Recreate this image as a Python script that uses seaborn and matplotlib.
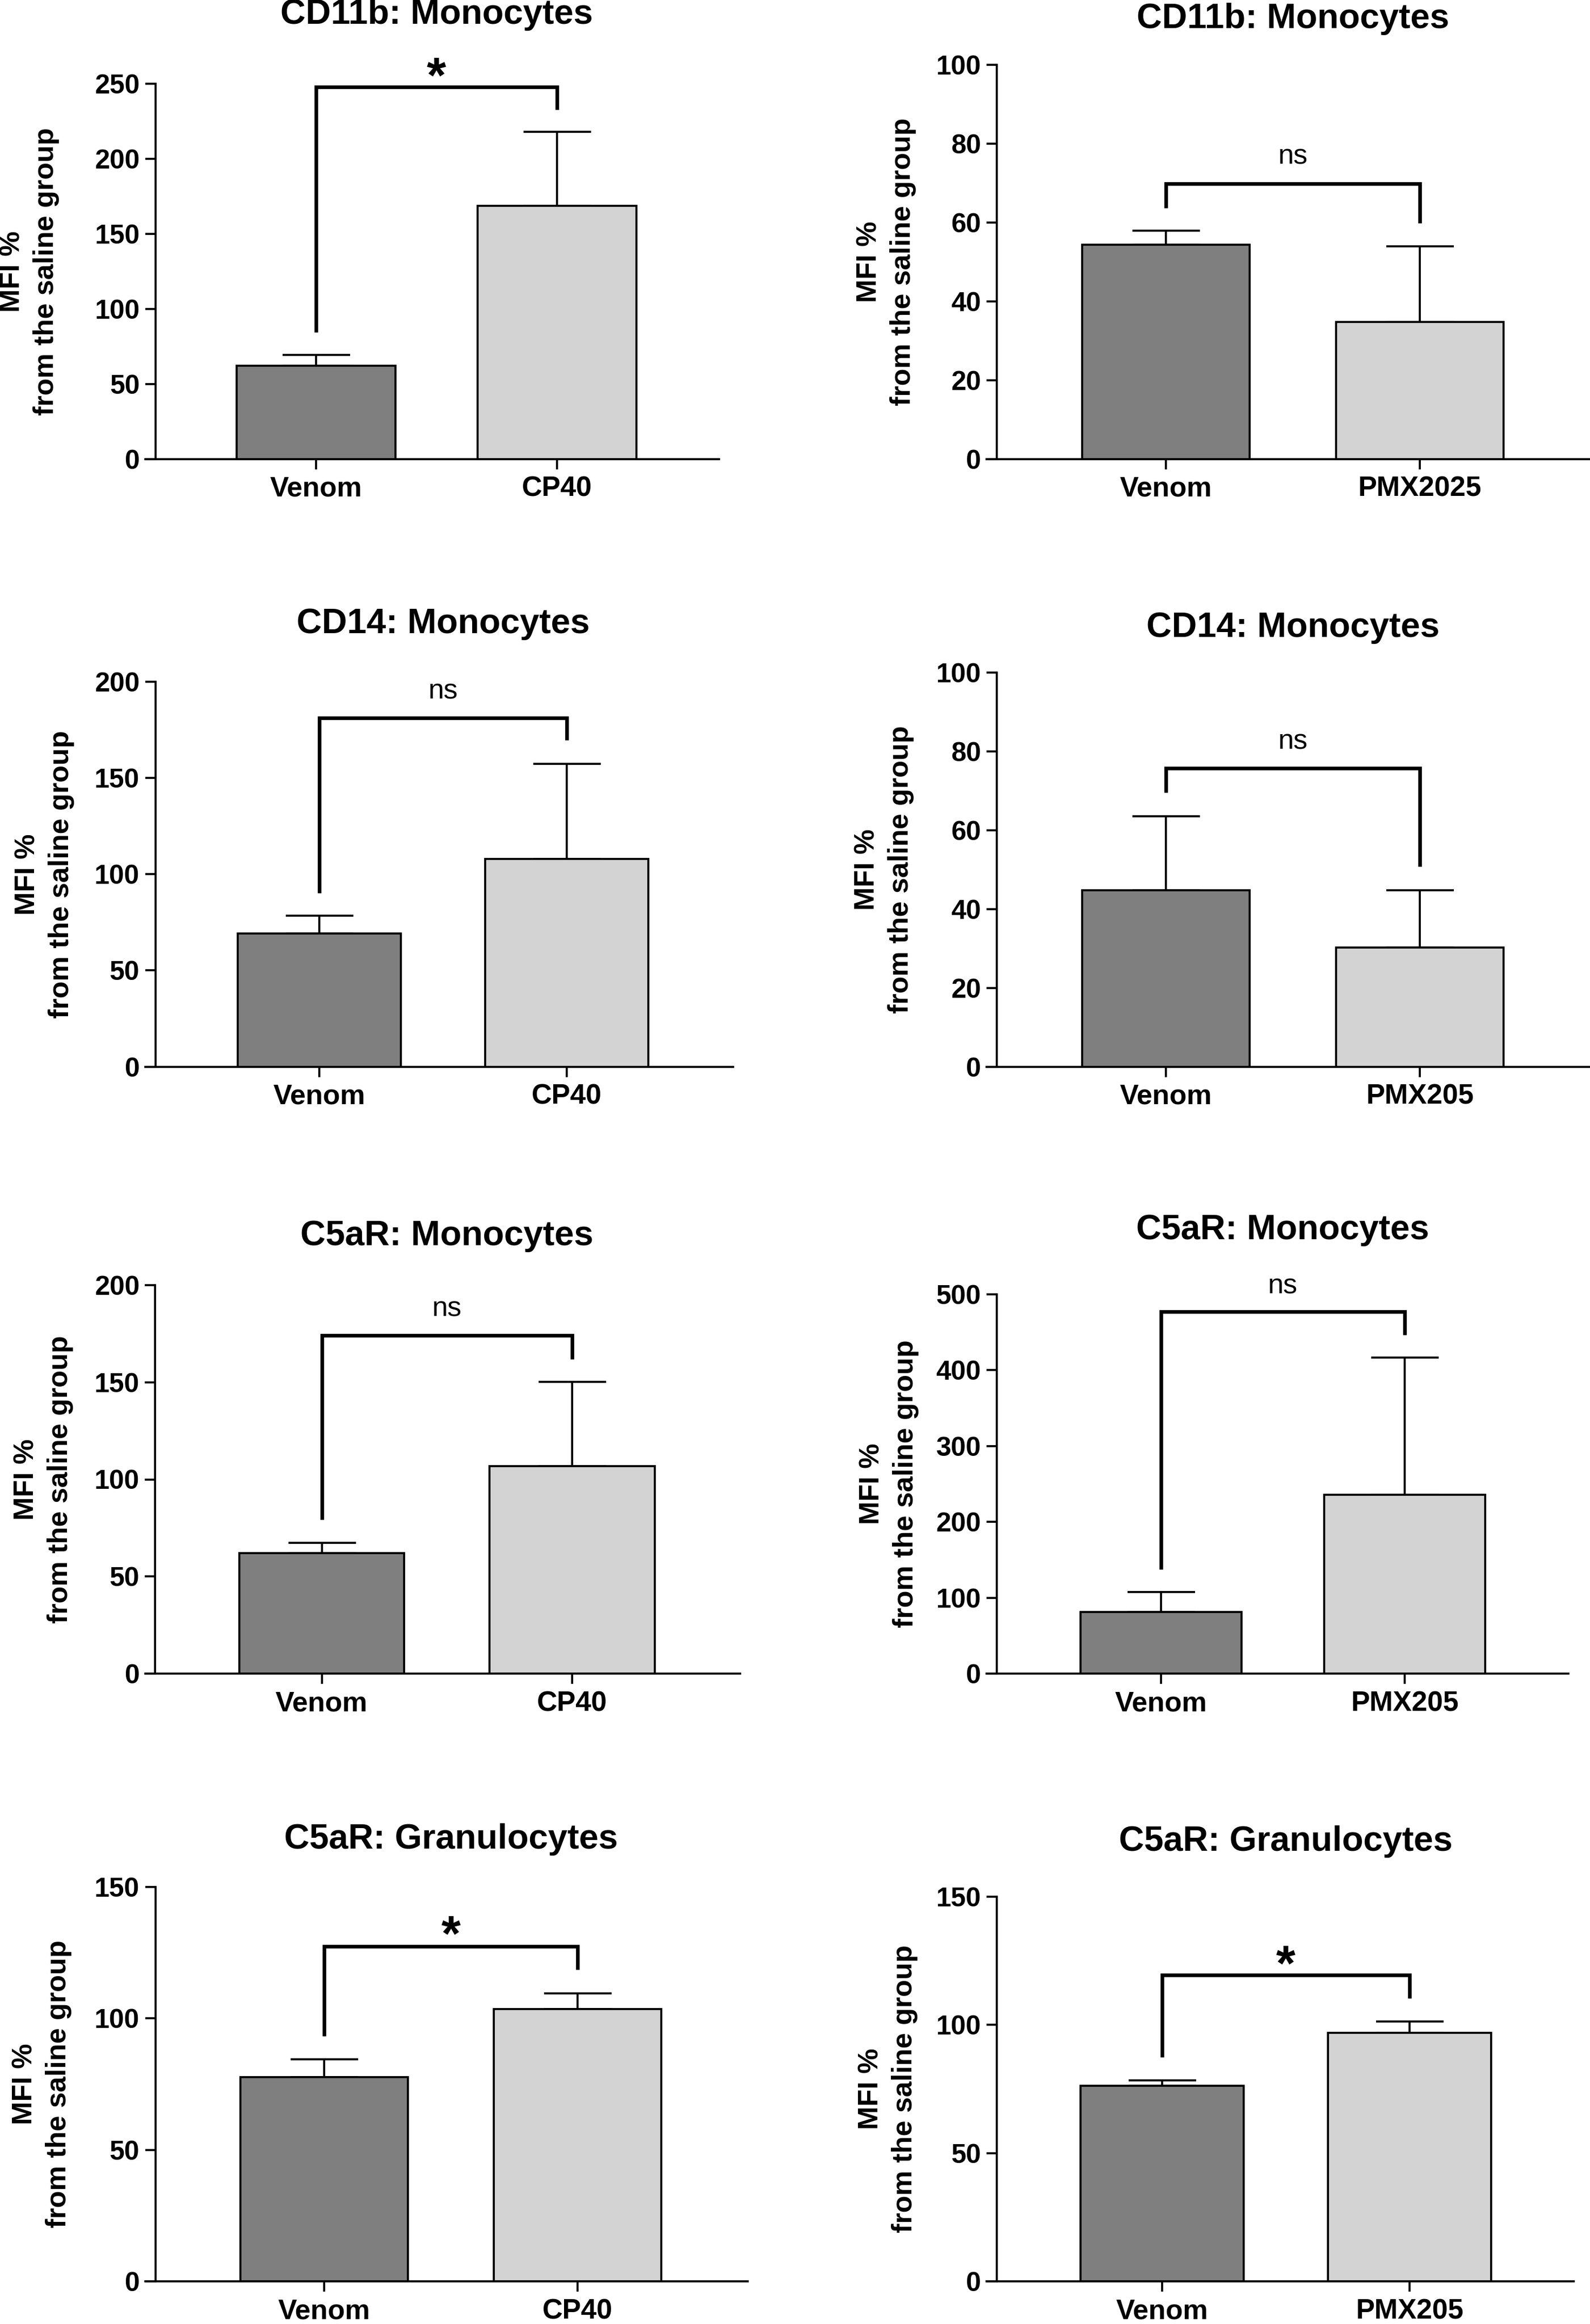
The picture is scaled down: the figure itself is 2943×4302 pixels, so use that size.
import numpy as np
import pandas as pd
import matplotlib
matplotlib.use('Agg')
import matplotlib.pyplot as plt
import seaborn as sns
from matplotlib.transforms import blended_transform_factory

# --- data (mean and upper SEM per group) ---
titles = ['CD11b: Monocytes', 'CD11b: Monocytes',
          'CD14: Monocytes', 'CD14: Monocytes',
          'C5aR: Monocytes', 'C5aR: Monocytes',
          'C5aR: Granulocytes', 'C5aR: Granulocytes']
groups = [['Venom', 'CP40'], ['Venom', 'PMX2025'],
          ['Venom', 'CP40'], ['Venom', 'PMX205'],
          ['Venom', 'CP40'], ['Venom', 'PMX205'],
          ['Venom', 'CP40'], ['Venom', 'PMX205']]
means = [[62.0, 168.5], [54.4, 34.7],
         [69.3, 107.9], [44.8, 30.3],
         [62.0, 106.7], [81.5, 236.0],
         [77.7, 103.5], [76.3, 97.0]]
sems = [[7.3, 49.4], [3.5, 19.2],
        [9.1, 49.4], [18.8, 14.5],
        [5.3, 43.4], [26.0, 181.0],
        [6.7, 6.1], [2.1, 4.3]]
y_max = [250, 100, 200, 100, 200, 500, 150, 150]
y_step = [50, 20, 50, 20, 50, 100, 50, 50]

# significance brackets
bracket_left = [84.3, 63.7, 90.2, 69.6, 79.4, 137.5, 93.2, 87.4]
bracket_top = [247.7, 69.8, 181.2, 75.7, 174.2, 477.0, 127.4, 119.5]
bracket_right = [232.8, 59.9, 169.6, 50.8, 161.9, 446.6, 118.5, 110.3]
sig_labels = ['*', 'ns', 'ns', 'ns', 'ns', 'ns', '*', '*']
sig_y = [263.3, 76.7, 194.9, 82.5, 187.7, 511.0, 136.5, 128.5]

bar_colors = ['#7f7f7f', '#d3d3d4']

# --- panel placement in pixels of the 2943x4302 canvas ---
W, H, DPI = 2943, 4302, 300
spine_x = [288, 1845, 287.5, 1845, 287.5, 1845, 287.5, 1845]
right_x = [1331, 2943, 1357, 2943, 1370, 2903, 1384, 2913]
top_y = [155, 120, 1262, 1245, 2379, 2396, 3493, 3511]
base_y = [849.5, 849.5, 1974.6, 1974.6, 3098, 3098, 4223, 4223]
cat0_x = [585, 2158, 591, 2158, 595.5, 2149, 600, 2151]
cat1_x = [1031, 2628, 1049, 2628, 1059, 2600, 1069, 2609]
title_y = [27, 35, 1155, 1162, 2288, 2277, 3405, 3409]
ylab_x = [54, 1640, 82, 1636, 80, 1645, 77, 1643]
tick_px = 19

sns.set_style('ticks')
plt.rcParams['font.family'] = ['Liberation Sans', 'DejaVu Sans']
plt.rcParams.update({'axes.linewidth': 0.9, 'axes.edgecolor': 'black',
                     'text.color': 'black', 'axes.labelcolor': 'black',
                     'xtick.color': 'black', 'ytick.color': 'black'})

fig = plt.figure(figsize=(W / DPI, H / DPI), dpi=DPI)

for i in range(8):
    left_px = spine_x[i] - tick_px
    ax = fig.add_axes([left_px / W, 1 - base_y[i] / H,
                       (right_x[i] - left_px) / W, (base_y[i] - top_y[i]) / H])

    df = pd.DataFrame({'group': groups[i], 'mfi': means[i]})
    sns.barplot(data=df, x='group', y='mfi', hue='group', palette=bar_colors,
                width=0.66, edgecolor='black', linewidth=0.9, errorbar=None,
                legend=False, ax=ax, zorder=2)
    ax.errorbar(x=[0, 1], y=means[i], yerr=[[0, 0], sems[i]], fmt='none',
                ecolor='black', elinewidth=0.9, capsize=15, capthick=0.9, zorder=1)

    span = cat1_x[i] - cat0_x[i]
    ax.set_xlim((left_px - cat0_x[i]) / span, (right_x[i] - cat0_x[i]) / span)
    ax.set_ylim(0, y_max[i])
    ax.set_yticks(np.arange(0, y_max[i] + 1, y_step[i]))
    ax.spines['left'].set_position(('data', (spine_x[i] - cat0_x[i]) / span))
    ax.spines['top'].set_visible(False)
    ax.spines['right'].set_visible(False)
    ax.tick_params(axis='both', length=4.5, width=0.9, color='black', labelcolor='black')
    ax.tick_params(axis='y', labelsize=12, pad=2.5)
    ax.tick_params(axis='x', labelsize=12.5, pad=3)
    for lab in ax.get_xticklabels() + ax.get_yticklabels():
        lab.set_fontweight('bold')
    ax.set_xlabel('')
    ax.set_ylabel('')

    # bracket and significance label
    ax.plot([0, 0, 1, 1], [bracket_left[i], bracket_top[i], bracket_top[i], bracket_right[i]],
            color='black', lw=1.6, solid_joinstyle='miter', solid_capstyle='butt',
            clip_on=False, zorder=3)
    if sig_labels[i] == '*':
        ax.annotate('*', xy=(0.5, sig_y[i]), xytext=(0, -12.5), textcoords='offset points',
                    ha='center', va='baseline', fontsize=22, fontweight='bold',
                    annotation_clip=False)
    else:
        ax.annotate('ns', xy=(0.5, sig_y[i]), xytext=(0, -3.3), textcoords='offset points',
                    ha='center', va='baseline', fontsize=12.5, annotation_clip=False)

    trans = blended_transform_factory(ax.transData, fig.transFigure)
    ax.text(0.5, 1 - title_y[i] / H, titles[i], transform=trans, ha='center',
            va='center', fontsize=15.5, fontweight='bold')
    fig.text(ylab_x[i] / W, 1 - (top_y[i] + base_y[i]) / 2 / H,
             'MFI %\nfrom the saline group', rotation=90, ha='center', va='center',
             multialignment='center', fontsize=12.5, fontweight='bold', linespacing=1.35)

fig.savefig('out.png', dpi=DPI)
